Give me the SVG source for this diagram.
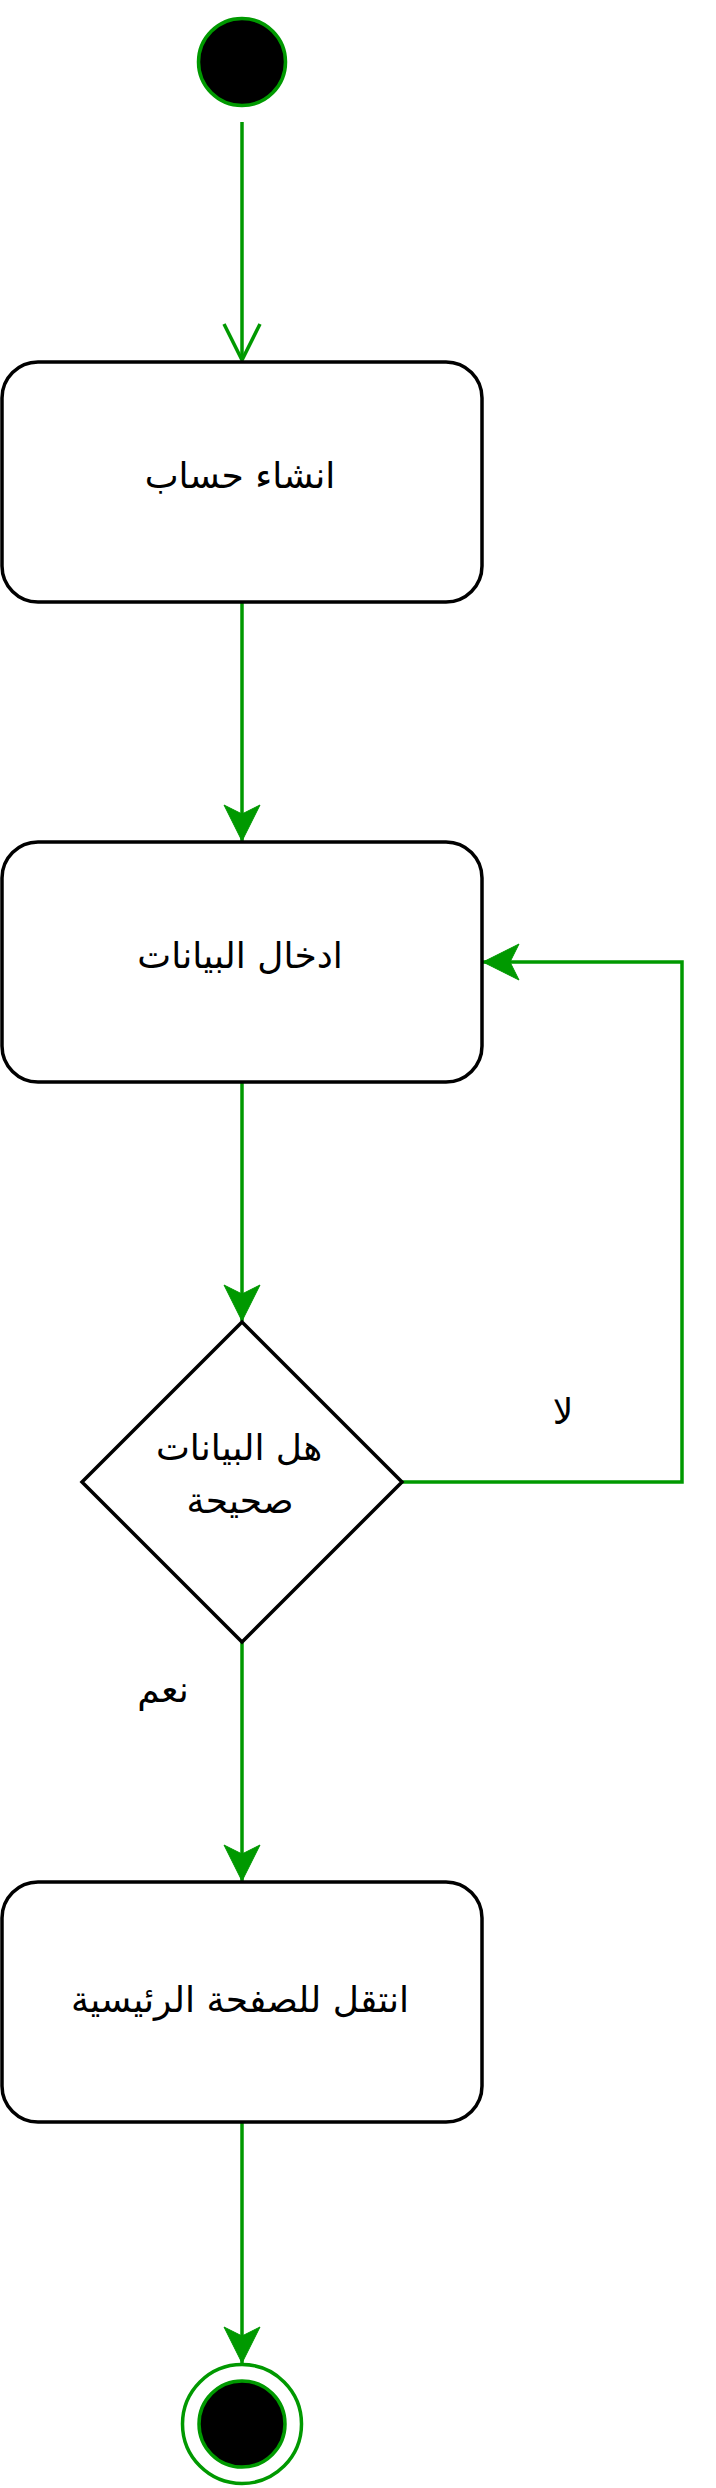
<svg xmlns="http://www.w3.org/2000/svg" width="716" height="2488" viewBox="0 0 716 2488">
<style>
.node{fill:#fff;stroke:#000;stroke-width:3.5}
.conn{fill:none;stroke:#009900;stroke-width:3.5}
.lbl{font-family:"DejaVu Sans",sans-serif;font-size:36px;fill:#000;text-anchor:middle}
</style>
<defs>
<marker id="classic" markerUnits="userSpaceOnUse" markerWidth="40" markerHeight="40" viewBox="-38 -20 40 40" refX="0" refY="0" orient="auto">
<path d="M0,0 L-36,-18 L-27,0 L-36,18 Z" fill="#009900" stroke="#009900" stroke-width="1"/>
</marker>
<marker id="open" markerUnits="userSpaceOnUse" markerWidth="44" markerHeight="44" viewBox="-40 -22 44 44" refX="0" refY="0" orient="auto">
<path d="M-36,-18 L0,0 L-36,18" fill="none" stroke="#009900" stroke-width="3.5"/>
</marker>
</defs>
<g id="connectors">
<path class="conn" d="M242,122 L242,360" marker-end="url(#open)"/>
<path class="conn" d="M242,602 L242,841" marker-end="url(#classic)"/>
<path class="conn" d="M242,1082 L242,1321" marker-end="url(#classic)"/>
<path class="conn" d="M402,1482 L682,1482 L682,962 L483,962" marker-end="url(#classic)"/>
<path class="conn" d="M242,1642 L242,1881" marker-end="url(#classic)"/>
<path class="conn" d="M242,2122 L242,2363" marker-end="url(#classic)"/>
<text class="lbl" x="563" y="1424">لا</text>
<text class="lbl" x="163" y="1702">نعم</text>
</g>
<g id="start">
<circle cx="242" cy="62" r="43.5" fill="#000" stroke="#009900" stroke-width="3.5"/>
</g>
<g id="create-account">
<rect class="node" x="2" y="362" width="480" height="240" rx="36" ry="36"/>
<text class="lbl" x="240" y="488">انشاء حساب</text>
</g>
<g id="enter-data">
<rect class="node" x="2" y="842" width="480" height="240" rx="36" ry="36"/>
<text class="lbl" x="240" y="968">ادخال البيانات</text>
</g>
<g id="decision">
<path class="node" d="M242,1322 L402,1482 L242,1642 L82,1482 Z"/>
<text class="lbl" x="239" y="1460">هل البيانات</text>
<text class="lbl" x="240" y="1513">صحيحة</text>
</g>
<g id="home">
<rect class="node" x="2" y="1882" width="480" height="240" rx="36" ry="36"/>
<text class="lbl" x="240" y="2012">انتقل للصفحة الرئيسية</text>
</g>
<g id="end">
<circle cx="242" cy="2424" r="59.5" fill="none" stroke="#009900" stroke-width="3.5"/>
<circle cx="242" cy="2424" r="43" fill="#000" stroke="#009900" stroke-width="3.5"/>
</g>
</svg>
